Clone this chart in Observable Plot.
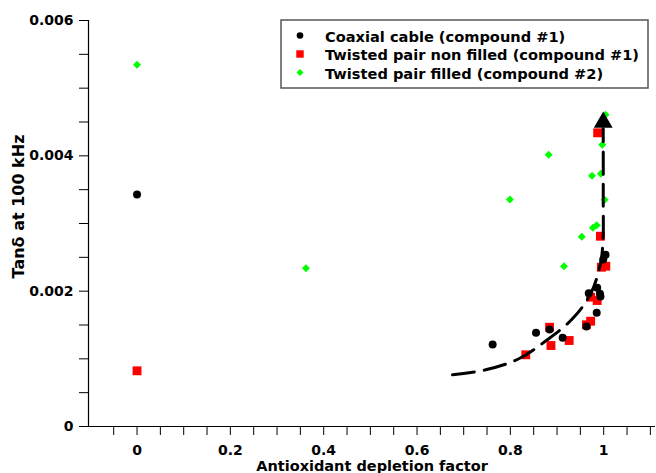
<!DOCTYPE html>
<html>
<head>
<meta charset="utf-8">
<script src="https://cdn.jsdelivr.net/npm/d3@7"></script>
<script src="https://cdn.jsdelivr.net/npm/@observablehq/plot@0.6"></script>
<style>
  html, body { margin: 0; padding: 0; background: #fff; }
  #chart { width: 656px; height: 473px; overflow: hidden; }
</style>
</head>
<body>
<div id="chart"></div>
<script>
// ---- data ----
const coaxX = [0, 0.762, 0.855, 0.884, 0.912, 0.963, 0.985, 0.968, 0.986, 0.992, 0.993, 1.004, 0.999];
const coaxY = [0.00343, 0.00121, 0.001385, 0.001433, 0.001311, 0.001478, 0.00168, 0.00197, 0.00205, 0.00196, 0.00192, 0.002537, 0.002468];

const tpNonX = [0, 0.833, 0.884, 0.887, 0.926, 0.963, 0.972, 0.972, 0.986, 0.995, 1.0045, 0.993, 0.987];
const tpNonY = [0.000823, 0.00106, 0.001467, 0.001197, 0.001271, 0.001503, 0.001556, 0.001911, 0.001862, 0.002354, 0.002369, 0.002812, 0.00434];

const tpFillX = [0, 0.362, 0.799, 0.882, 0.915, 0.953, 0.975, 0.994, 0.997, 1.004, 1.002, 0.977, 0.985];
const tpFillY = [0.005345, 0.00234, 0.003355, 0.004015, 0.002369, 0.002803, 0.003705, 0.003734, 0.004163, 0.004606, 0.00335, 0.002936, 0.002975];

// dashed trend curve and its arrow head
const trendX = [0.676, 0.747, 0.818, 0.877, 0.933, 0.972, 0.993, 0.9985, 0.999, 0.999];
const trendY = [0.000764, 0.000838, 0.001001, 0.001271, 0.001592, 0.001961, 0.002404, 0.002749, 0.00334, 0.0044];
const arrowX = [0.999];
const arrowY = [0.004494];

const xDomain = [-0.104, 1.111];
const yDomain = [0, 0.006];

const xTicks = [-0.05, 0, 0.05, 0.1, 0.15, 0.2, 0.25, 0.3, 0.35, 0.4, 0.45, 0.5, 0.55, 0.6, 0.65, 0.7, 0.75, 0.8, 0.85, 0.9, 0.95, 1, 1.05, 1.1];
const xTickLabels = ["", "0", "", "", "", "0.2", "", "", "", "0.4", "", "", "", "0.6", "", "", "", "0.8", "", "", "", "1", "", ""];
const yTicks = [0, 0.0005, 0.001, 0.0015, 0.002, 0.0025, 0.003, 0.0035, 0.004, 0.0045, 0.005, 0.0055, 0.006];
const yTickLabels = ["0", "", "", "", "0.002", "", "", "", "0.004", "", "", "", "0.006"];

const xTitle = "Antioxidant depletion factor";
const yTitle = "Tanδ at 100 kHz";
const seriesNames = ["Coaxial cable (compound #1)", "Twisted pair non filled (compound #1)", "Twisted pair filled (compound #2)"];
const seriesColors = ["#000000", "#ff0000", "#00ff00"];

// ---- chart ----
const xLab = new Map(xTicks.map((t, i) => [t, xTickLabels[i]]));
const yLab = new Map(yTicks.map((t, i) => [t, yTickLabels[i]]));
const FONT = '"DejaVu Sans", Verdana, sans-serif';

const svg = Plot.plot({
  width: 656,
  height: 473,
  marginLeft: 88,
  marginRight: 1,
  marginTop: 20,
  marginBottom: 47,
  style: {fontFamily: FONT, fontWeight: "bold", fontSize: "14px", background: "#fff", color: "#000", overflow: "visible"},
  x: {domain: xDomain},
  y: {domain: yDomain},
  marks: [
    Plot.ruleX([xDomain[0]], {y1: yDomain[0], y2: yDomain[1], stroke: "#000", strokeWidth: 1.2}),
    Plot.ruleY([yDomain[0]], {stroke: "#000", strokeWidth: 1.2}),
    Plot.axisY(yTicks, {tickSize: 9, tickPadding: 6, tickFormat: d => yLab.get(d) ?? "", label: null, stroke: "#000", fontSize: 14}),
    Plot.axisX(xTicks, {tickSize: 9, tickPadding: 10, tickFormat: d => xLab.get(d) ?? "", label: null, stroke: "#000", fontSize: 14}),
    Plot.text([xTitle], {frameAnchor: "bottom", lineAnchor: "middle", textAnchor: "middle", dy: 40, fontSize: 14.5, fontWeight: "bold"}),
    Plot.text([yTitle], {frameAnchor: "left", lineAnchor: "middle", textAnchor: "middle", rotate: -90, dx: -70, dy: -17, fontSize: 16, fontWeight: "bold"}),
    Plot.dot(tpNonX, {x: tpNonX, y: tpNonY, symbol: "square", r: 5, fill: seriesColors[1]}),
    Plot.dot(coaxX, {x: coaxX, y: coaxY, symbol: "circle", r: 4, fill: seriesColors[0]}),
    Plot.dot(tpFillX, {x: tpFillX, y: tpFillY, symbol: "diamond2", r: 3.6, fill: seriesColors[2]}),
    Plot.line(trendX, {x: trendX, y: trendY, curve: "catmull-rom", stroke: "#000", strokeWidth: 3, strokeDasharray: "22,10"}),
    Plot.dot(arrowX, {x: arrowX, y: arrowY, symbol: "triangle", r: 7, fill: "#000"})
  ]
});

// ---- legend (drawn inside the plot area, top right) ----
const lg = d3.select(svg).append("g")
  .attr("font-family", FONT).attr("font-weight", "bold").attr("font-size", 14.6)
  .attr("text-anchor", "start");
lg.append("rect").attr("x", 281).attr("y", 20).attr("width", 367).attr("height", 68)
  .attr("fill", "#fff").attr("stroke", "#555").attr("stroke-width", 1.5);
const symbols = [d3.symbolCircle, d3.symbolSquare, d3.symbolDiamond2];
const radii = [3.3, 4.2, 3.2];
seriesNames.forEach((name, i) => {
  const cy = 35.5 + i * 18.5;
  lg.append("path")
    .attr("d", d3.symbol(symbols[i], Math.PI * radii[i] * radii[i])())
    .attr("transform", `translate(300,${cy})`)
    .attr("fill", seriesColors[i]);
  lg.append("text").attr("x", 325).attr("y", cy + 6).attr("fill", "#000")
    .attr("text-anchor", "start").text(name);
});

document.getElementById("chart").appendChild(svg);
</script>
</body>
</html>
